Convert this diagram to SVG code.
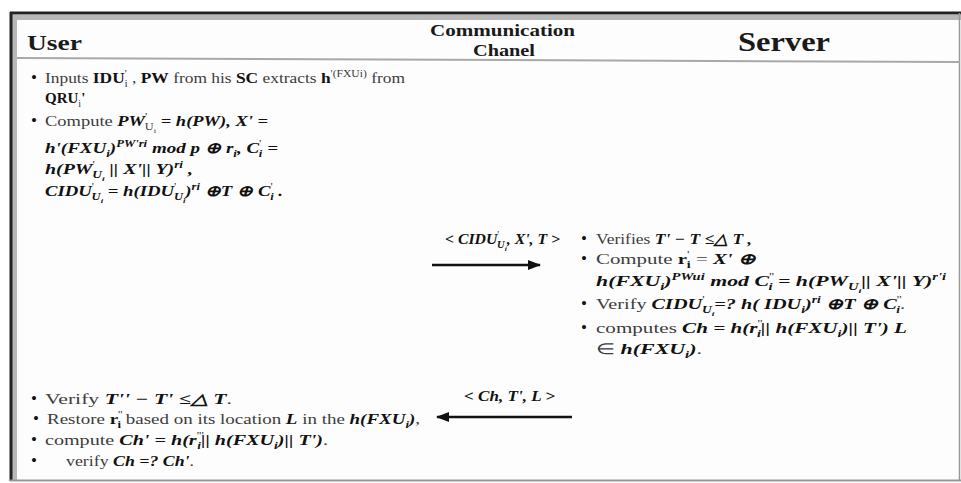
<svg xmlns="http://www.w3.org/2000/svg" width="961" height="483" viewBox="0 0 961 483">
<defs>
<style>
.t{font-family:"Liberation Serif","Times New Roman",serif;font-size:15px;fill:#3c3c3c}
.h{font-family:"Liberation Serif","Times New Roman",serif;font-weight:bold;fill:#1a1a1a}
.m{font-weight:bold;font-style:italic;fill:#111}
.b{font-weight:bold;fill:#111}
.sup{font-size:10px;baseline-shift:6px}
.sub{font-size:10px;baseline-shift:-4px}
.ss{font-size:7px;baseline-shift:-7px}
.bul{font-family:"Liberation Serif","Times New Roman",serif;font-size:17px;fill:#111}
.conn{stroke:#111;stroke-width:2.6;fill:none}
</style>
<marker id="ah" markerUnits="userSpaceOnUse" markerWidth="14" markerHeight="10" refX="12" refY="5" orient="auto">
<path d="M0,0 L13,5 L0,10 Z" fill="#111"/>
</marker>
</defs>
<rect x="0" y="0" width="961" height="483" fill="#ffffff"/>
<g id="frame">
<rect x="10" y="12" width="951" height="469" fill="#fdfdfd" stroke="none"/>
<rect x="12" y="15" width="949" height="5" fill="#b8b8b8"/>
<rect x="12" y="15" width="5" height="466" fill="#b8b8b8"/>
<line x1="10" y1="13" x2="961" y2="13" stroke="#222" stroke-width="3"/>
<line x1="11" y1="12" x2="11" y2="481" stroke="#222" stroke-width="3"/>
<line x1="959.5" y1="13" x2="959.5" y2="481" stroke="#999" stroke-width="1.5"/>
<line x1="10" y1="480.5" x2="961" y2="480.5" stroke="#999" stroke-width="2"/>
<line x1="17" y1="58" x2="960" y2="62" stroke="#a8a8a8" stroke-width="2"/>
</g>
<g id="header">
<text class="h" x="27" y="50" font-size="22" textLength="55" lengthAdjust="spacingAndGlyphs">User</text>
<text class="h" x="430" y="36" font-size="16" textLength="145" lengthAdjust="spacingAndGlyphs">Communication</text>
<text class="h" x="473" y="56" font-size="16" textLength="62" lengthAdjust="spacingAndGlyphs">Chanel</text>
<text class="h" x="738" y="51" font-size="28" textLength="92" lengthAdjust="spacingAndGlyphs">Server</text>
</g>
<g id="user-step1">
<text class="bul" x="31" y="83">•</text>
<text class="t" x="45" y="83" textLength="360" lengthAdjust="spacingAndGlyphs">Inputs <tspan class="b">IDU</tspan><tspan class="sup">'</tspan><tspan class="sub" dx="-2">i</tspan> , <tspan class="b">PW</tspan> from his <tspan class="b">SC</tspan> extracts  <tspan class="b">h</tspan><tspan class="sup">'(FXUi)</tspan> from</text>
<text class="t" x="45" y="103"><tspan class="b">QRU</tspan><tspan class="sub">i</tspan><tspan class="b">'</tspan></text>
<text class="bul" x="31" y="126">•</text>
<text class="t" x="45" y="126" textLength="223" lengthAdjust="spacingAndGlyphs">Compute <tspan class="m">PW</tspan><tspan class="sup">'</tspan><tspan class="sub" dx="-2">U</tspan><tspan class="ss">i</tspan><tspan class="m"> = h(PW), X' =</tspan></text>
<text class="t" x="45" y="153" textLength="233" lengthAdjust="spacingAndGlyphs"><tspan class="m">h'(FXU</tspan><tspan class="sub m">i</tspan><tspan class="m">)</tspan><tspan class="sup m">PW'ri</tspan><tspan class="m"> mod p ⊕ r</tspan><tspan class="sub m">i</tspan><tspan class="m">, C</tspan><tspan class="sup">'</tspan><tspan class="sub m" dx="-2">i</tspan><tspan class="m"> =</tspan></text>
<text class="t" x="45" y="174" textLength="148" lengthAdjust="spacingAndGlyphs"><tspan class="m">h(PW</tspan><tspan class="sup">'</tspan><tspan class="sub m" dx="-2">U</tspan><tspan class="ss m">i</tspan><tspan class="m"> || X'|| Y)</tspan><tspan class="sup m">ri</tspan><tspan class="m">  ,</tspan></text>
<text class="t" x="45" y="196" textLength="238" lengthAdjust="spacingAndGlyphs"><tspan class="m">CIDU</tspan><tspan class="sup">'</tspan><tspan class="sub m" dx="-2">U</tspan><tspan class="ss m">i</tspan><tspan class="m"> = h(IDU</tspan><tspan class="sup">'</tspan><tspan class="sub m" dx="-2">U</tspan><tspan class="ss m">i</tspan><tspan class="m">)</tspan><tspan class="sup m">ri</tspan><tspan class="m">  ⊕T ⊕ C</tspan><tspan class="sup">'</tspan><tspan class="sub m" dx="-2">i</tspan><tspan class="m"> .</tspan></text>
</g>
<g id="server-step">
<text class="bul" x="581" y="244">•</text>
<text class="t" x="596" y="244" textLength="156" lengthAdjust="spacingAndGlyphs">Verifies <tspan class="m">T' − T ≤△ T ,</tspan></text>
<text class="bul" x="581" y="264">•</text>
<text class="t" x="596" y="264" textLength="160" lengthAdjust="spacingAndGlyphs">Compute <tspan class="b">r</tspan><tspan class="sup">'</tspan><tspan class="sub b" dx="-2">i</tspan> =  <tspan class="m">X'  ⊕</tspan></text>
<text class="t" x="596" y="286" textLength="350" lengthAdjust="spacingAndGlyphs"><tspan class="m">h(FXU</tspan><tspan class="sub m">i</tspan><tspan class="m">)</tspan><tspan class="sup m">PWui</tspan><tspan class="m"> mod  C</tspan><tspan class="sup">''</tspan><tspan class="sub m" dx="-4">i</tspan><tspan class="m"> = h(PW</tspan><tspan class="sub m">U</tspan><tspan class="ss m">i</tspan><tspan class="m">|| X'|| Y)</tspan><tspan class="sup m">r'i</tspan></text>
<text class="bul" x="581" y="309">•</text>
<text class="t" x="596" y="309" textLength="309" lengthAdjust="spacingAndGlyphs">Verify <tspan class="m">CIDU</tspan><tspan class="sup">'</tspan><tspan class="sub m" dx="-2">U</tspan><tspan class="ss m">i</tspan><tspan class="m">=? h( IDU</tspan><tspan class="sub m">i</tspan><tspan class="m">)</tspan><tspan class="sup m">ri</tspan><tspan class="m">  ⊕T ⊕ C</tspan><tspan class="sup">''</tspan><tspan class="sub m" dx="-4">i</tspan>.</text>
<text class="bul" x="581" y="333">•</text>
<text class="t" x="596" y="333" textLength="311" lengthAdjust="spacingAndGlyphs">computes <tspan class="m">Ch = h(r</tspan><tspan class="sup">''</tspan><tspan class="sub m" dx="-4">i</tspan><tspan class="m">|| h(FXU</tspan><tspan class="sub m">i</tspan><tspan class="m">)|| T')  L</tspan></text>
<text class="t" x="596" y="354" textLength="106" lengthAdjust="spacingAndGlyphs">∈ <tspan class="m">h(FXU</tspan><tspan class="sub m">i</tspan><tspan class="m">)</tspan>.</text>
</g>
<g id="user-step2">
<text class="bul" x="31" y="404">•</text>
<text class="t" x="45" y="404" textLength="187" lengthAdjust="spacingAndGlyphs">Verify <tspan class="m">T'' − T' ≤△ T</tspan>.</text>
<text class="bul" x="33" y="424">•</text>
<text class="t" x="47" y="424" textLength="373" lengthAdjust="spacingAndGlyphs">Restore <tspan class="b">r</tspan><tspan class="sup">''</tspan><tspan class="sub b" dx="-4">i</tspan>  based on its location <tspan class="m">L</tspan> in the <tspan class="m">h(FXU</tspan><tspan class="sub m">i</tspan><tspan class="m">)</tspan>,</text>
<text class="bul" x="31" y="445">•</text>
<text class="t" x="45" y="445" textLength="283" lengthAdjust="spacingAndGlyphs">compute <tspan class="m">Ch' = h(r</tspan><tspan class="sup">'''</tspan><tspan class="sub m" dx="-5">i</tspan><tspan class="m">|| h(FXU</tspan><tspan class="sub m">i</tspan><tspan class="m">)|| T')</tspan>.</text>
<text class="bul" x="31" y="466">•</text>
<text class="t" x="66" y="466" textLength="128" lengthAdjust="spacingAndGlyphs">verify <tspan class="m">Ch =? Ch'</tspan>.</text>
</g>
<g id="label-msg1">
<text class="t" x="445" y="244" textLength="115" lengthAdjust="spacingAndGlyphs"><tspan class="m">&lt; CIDU</tspan><tspan class="sup">'</tspan><tspan class="sub m" dx="-2">U</tspan><tspan class="ss m">i</tspan><tspan class="m">, X', T &gt;</tspan></text>
</g>
<g id="label-msg2">
<text class="t" x="464" y="401" textLength="91" lengthAdjust="spacingAndGlyphs"><tspan class="m">&lt; Ch, T', L &gt;</tspan></text>
</g>
<g id="connectors">
<line class="conn" x1="432" y1="265" x2="540" y2="265" marker-end="url(#ah)"/>
<line class="conn" x1="572" y1="417" x2="437" y2="417" marker-end="url(#ah)"/>
</g>
</svg>
